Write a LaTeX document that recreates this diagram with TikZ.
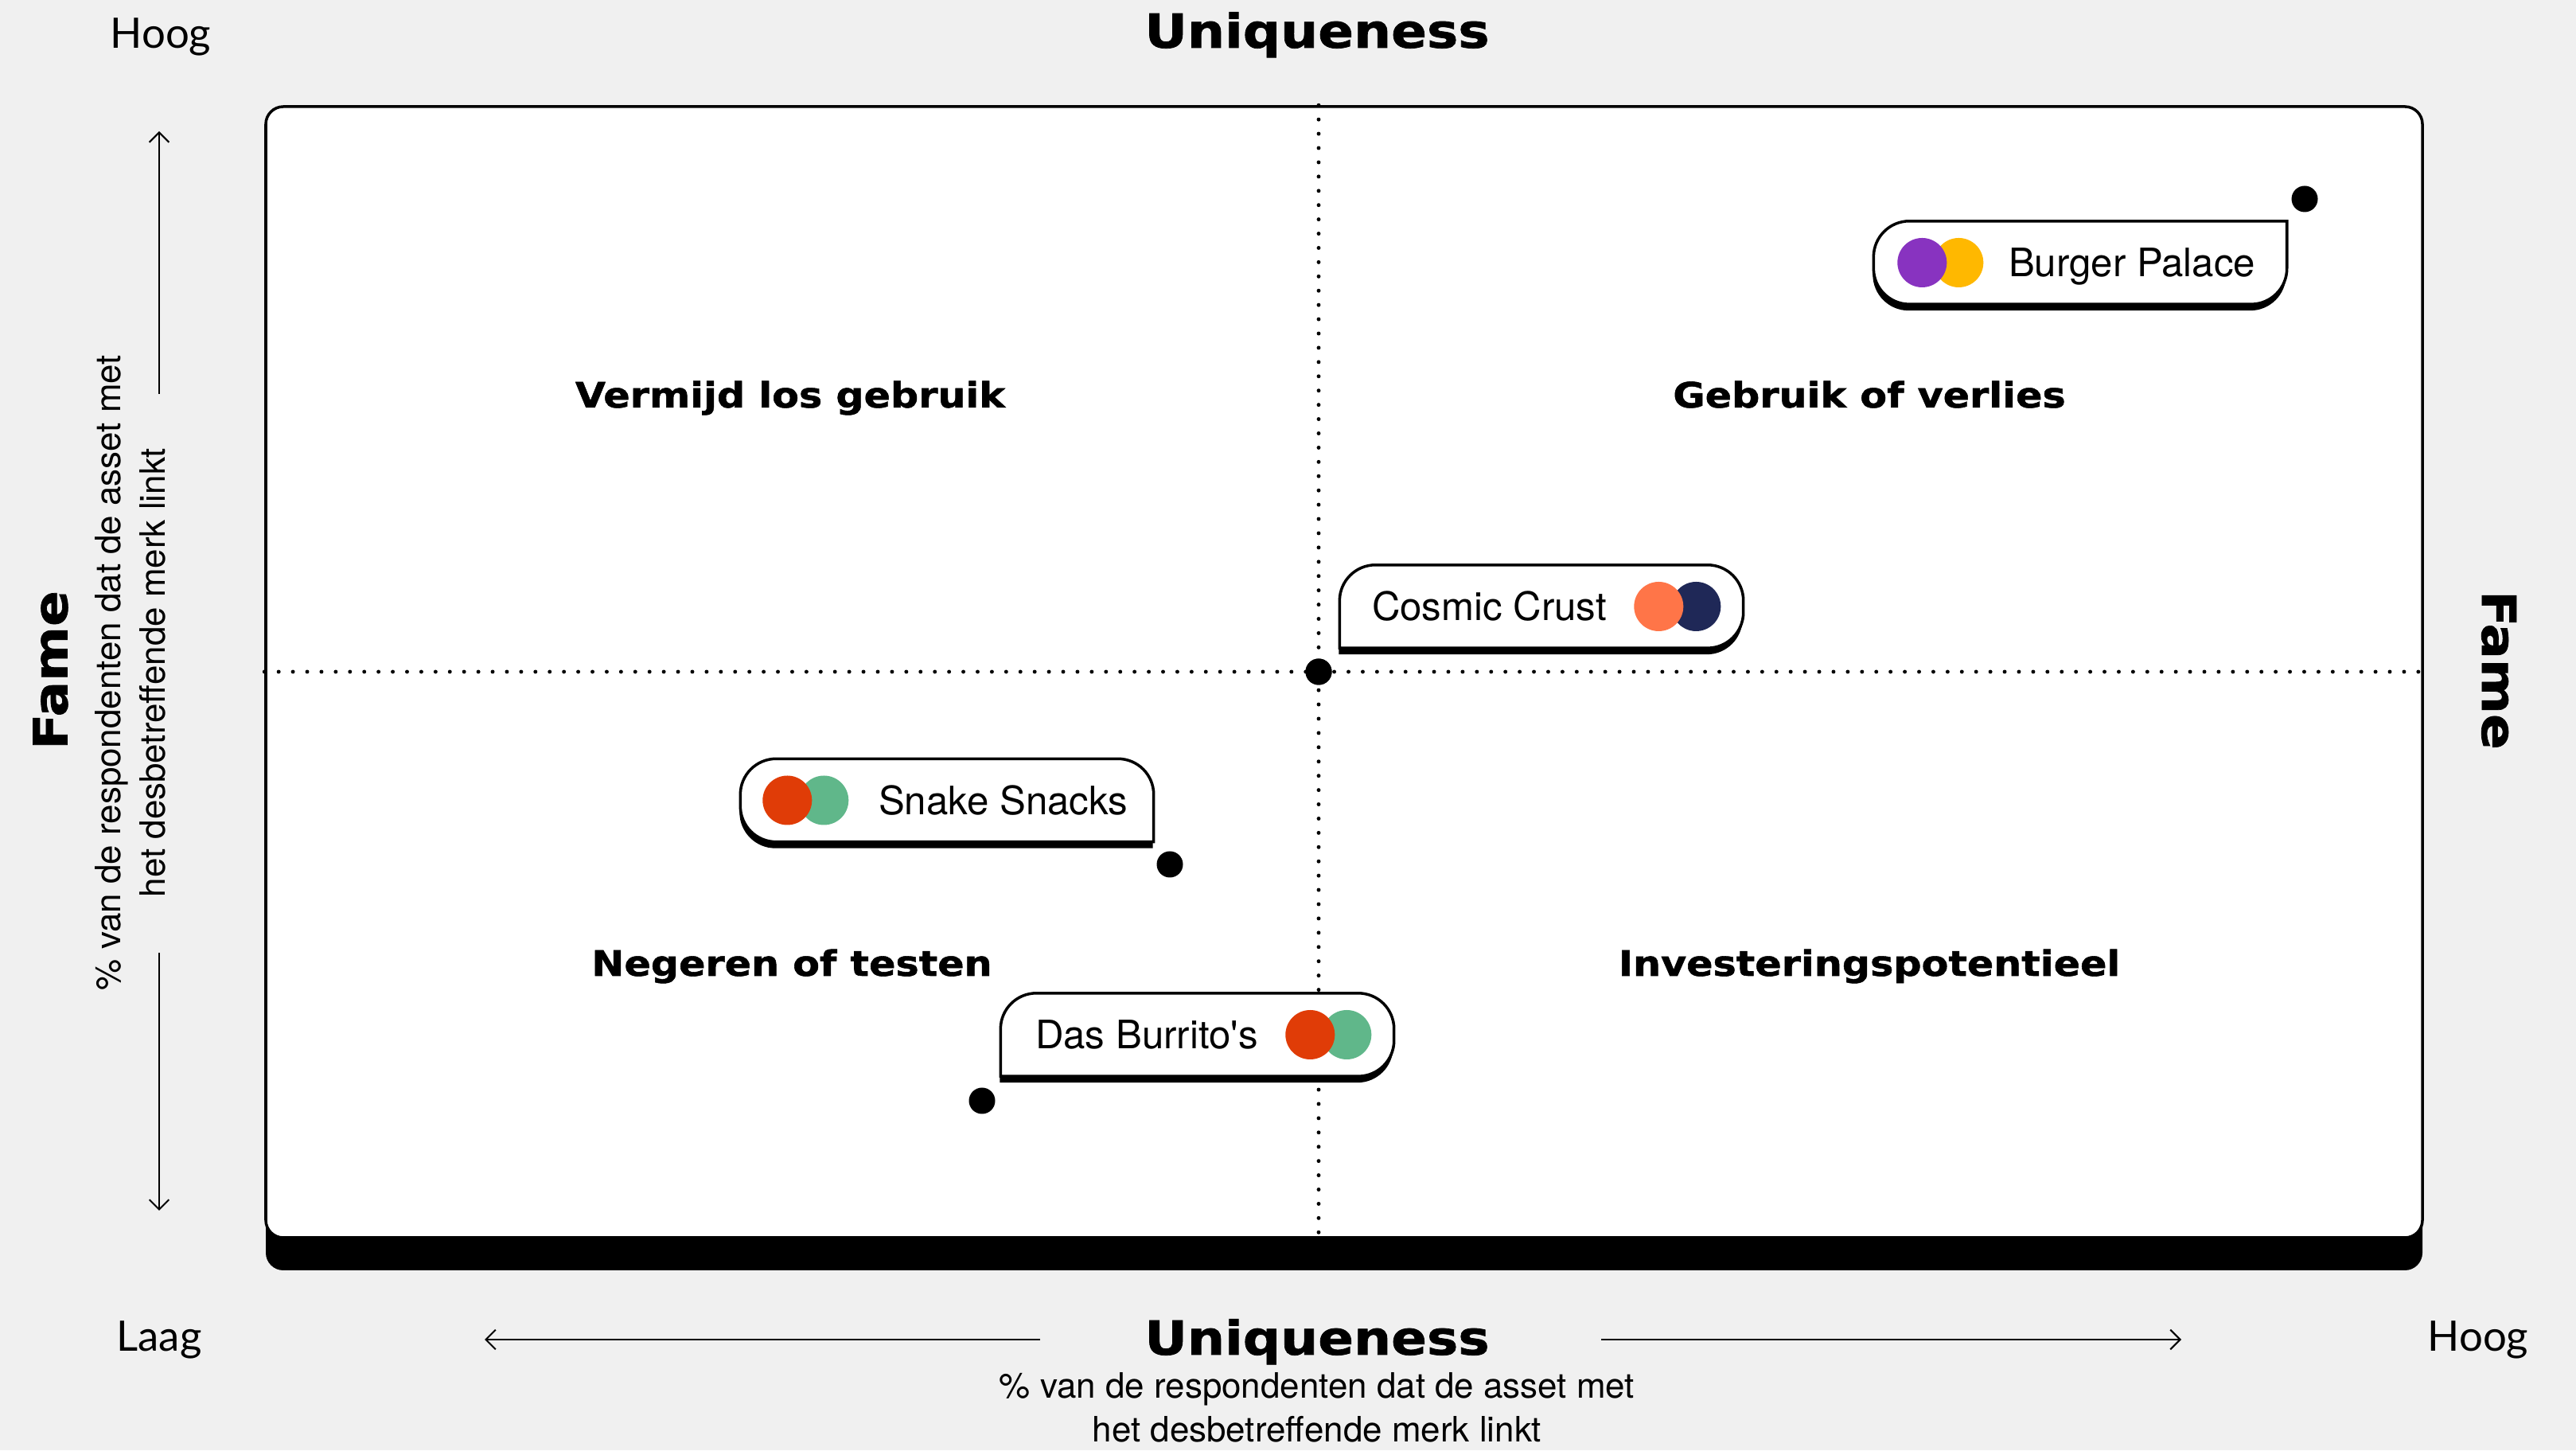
\documentclass[tikz,border=0pt]{standalone}
\usepackage{fontspec}
\setmainfont{TeX Gyre Heros}
\newfontfamily\headfont[FakeStretch=1.12, BoldFeatures={FakeBold=1.2}]{DejaVu Sans}
\newfontfamily\thinfont{Lato}
\usetikzlibrary{arrows.meta,positioning}
\definecolor{canvasgrey}{HTML}{F0F0F0}
\definecolor{burgerpurple}{HTML}{8833C0}
\definecolor{burgeryellow}{HTML}{FFB800}
\definecolor{cosmicorange}{HTML}{FF7548}
\definecolor{cosmicnavy}{HTML}{1F2857}
\definecolor{snackred}{HTML}{E03C07}
\definecolor{snackgreen}{HTML}{60B78A}

\begin{document}
\begin{tikzpicture}[
    >={Straight Barb[length=3.5pt,width=7pt]},
    every node/.style={inner sep=0pt},
    heading/.style={font=\headfont\bfseries\fontsize{16.8}{20}\selectfont},
    quadrant/.style={font=\headfont\bfseries\fontsize{12.5}{15}\selectfont, anchor=base},
    note/.style={font=\fontsize{12.5}{15.7}\selectfont, align=center},
    endlabel/.style={font=\thinfont\fontsize{15}{18}\selectfont, anchor=base},
    brandtext/.style={font=\fontsize{14}{17}\selectfont, anchor=base west},
    brandbox/.style={minimum width=#1, minimum height=1.03cm},
    swatch/.style={circle, minimum size=0.62cm},
    datadot/.style={circle, fill=black, minimum size=0.33cm},
    gridline/.style={line width=1.4pt, line cap=round, dash pattern=on 0pt off 5.1pt},
    axisarrow/.style={->, line width=0.6pt},
    outline/.style={fill=white, draw=black, line width=1pt, line cap=rect, rounded corners=0.45cm}
]
    % === CANVAS ===
    \useasboundingbox (0,0) rectangle (32.37,18.22);
    \fill[canvasgrey] (0,0) rectangle (32.37,18.22);

    % === PLOT PANEL ===
    \node[fill=black, rounded corners=0.22cm, minimum width=27.1cm, minimum height=14.62cm] (panelshade) at (16.89,9.57) {};
    \node[fill=white, draw=black, line width=1pt, rounded corners=0.22cm, minimum width=27.1cm, minimum height=14.21cm] (panel) at (16.89,9.775) {};

    % Cosmic Crust sits on the crossing of the axes
    \node[datadot] (mid) at (16.57,9.78) {};
    \draw[gridline] (panel.north -| mid) -- (panel.south -| mid);
    \draw[gridline] (panel.west |- mid) -- (panel.east |- mid);
    \node[datadot] (ccdot) at (mid) {};

    % === QUADRANTS ===
    \node[quadrant] (avoid) at (9.93,13.10) {Vermijd los gebruik};
    \node[quadrant] (useit) at (23.49,13.10) {Gebruik of verlies};
    \node[quadrant] (ignore) at (9.95,5.96) {Negeren of testen};
    \node[quadrant] (invest) at (23.49,5.96) {Investeringspotentieel};

    % === BRANDS ===
    \node[brandbox=5.18cm] (bp) at (26.14,14.92) {};
    \node[brandbox=5.06cm] (cc) at (19.37,10.60) {};
    \node[brandbox=5.18cm] (ss) at (11.90,8.165) {};
    \node[brandbox=4.93cm] (db) at (15.045,5.22) {};

    % outline starts at the square corner that points to the dot
    \foreach \b/\ca/\cb/\cc/\cd in {bp/north east/south east/south west/north west,
                                    cc/south west/north west/north east/south east,
                                    ss/south east/south west/north west/north east,
                                    db/south west/north west/north east/south east} {
        \fill[rounded corners=0.45cm] ([shift={(-0.01,-0.08)}]\b.\ca) -- ([shift={(-0.01,-0.08)}]\b.\cb)
            -- ([shift={(-0.01,-0.08)}]\b.\cc) -- ([shift={(-0.01,-0.08)}]\b.\cd) -- ([shift={(-0.01,-0.08)}]\b.\ca);
        \draw[outline] (\b.\ca) -- (\b.\cb) -- (\b.\cc) -- (\b.\cd) -- (\b.\ca);
    }

    % Burger Palace
    \node[swatch, fill=burgeryellow] (bpright) at ([xshift=1.07cm]bp.west) {};
    \node[swatch, fill=burgerpurple] (bpleft) at ([xshift=0.61cm]bp.west) {};
    \node[brandtext] (bptext) at ([xshift=1.69cm, yshift=-0.18cm]bp.west) {Burger Palace};
    \node[datadot] (bpdot) at (28.96,15.72) {};

    % Cosmic Crust
    \node[brandtext] (cctext) at ([xshift=0.40cm, yshift=-0.18cm]cc.west) {Cosmic Crust};
    \node[swatch, fill=cosmicnavy] (ccright) at ([xshift=4.48cm]cc.west) {};
    \node[swatch, fill=cosmicorange] (ccleft) at ([xshift=4.01cm]cc.west) {};

    % Snake Snacks
    \node[swatch, fill=snackgreen] (ssright) at ([xshift=1.05cm]ss.west) {};
    \node[swatch, fill=snackred] (ssleft) at ([xshift=0.59cm]ss.west) {};
    \node[brandtext] (sstext) at ([xshift=1.73cm, yshift=-0.18cm]ss.west) {Snake Snacks};
    \node[datadot] (ssdot) at (14.70,7.36) {};

    % Das Burrito's
    \node[brandtext] (dbtext) at ([xshift=0.43cm, yshift=-0.18cm]db.west) {Das Burrito\textquotesingle s};
    \node[swatch, fill=snackgreen] (dbright) at ([xshift=4.35cm]db.west) {};
    \node[swatch, fill=snackred] (dbleft) at ([xshift=3.89cm]db.west) {};
    \node[datadot] (dbdot) at (12.34,4.39) {};

    % === AXIS LABELS ===
    % (base of a two-line note = baseline of its last line)
    \node[heading, anchor=base] (uniqtop) at (16.55,17.62) {Uniqueness};
    \node[heading, anchor=base] (uniqbottom) at (16.55,1.20) {Uniqueness};
    \node[note, anchor=base] (uniqnote) at (16.55,0.10) {\% van de respondenten dat de asset met\\het desbetreffende merk linkt};
    \node[heading, rotate=90] (fameleft) at (0.635,9.80) {Fame};
    \node[heading, rotate=-90] (fameright) at (31.40,9.80) {Fame};
    \node[note, rotate=90, anchor=base] (famenote) at (2.07,9.77) {\% van de respondenten dat de asset met\\het desbetreffende merk linkt};

    \node[endlabel] (famehighlabel) at (2.02,17.61) {Hoog};
    \node[endlabel] (uniqlowlabel) at (2.00,1.25) {Laag};
    \node[endlabel] (uniqhighlabel) at (31.14,1.25) {Hoog};

    % Axis arrows, broken by the captions
    \coordinate (famehigh) at (2.00,16.57);
    \coordinate (famegaptop) at (2.00,13.27);
    \coordinate (famegapbot) at (2.00,6.25);
    \coordinate (famelow) at (2.00,3.01);
    \draw[axisarrow] (famegaptop) -- (famehigh);
    \draw[axisarrow] (famegapbot) -- (famelow);

    \coordinate (uniqlow) at (6.09,1.39);
    \coordinate (uniqgapleft) at (13.07,1.39);
    \coordinate (uniqgapright) at (20.12,1.39);
    \coordinate (uniqhigh) at (27.41,1.39);
    \draw[axisarrow] (uniqgapleft) -- (uniqlow);
    \draw[axisarrow] (uniqgapright) -- (uniqhigh);
\end{tikzpicture}
\end{document}
